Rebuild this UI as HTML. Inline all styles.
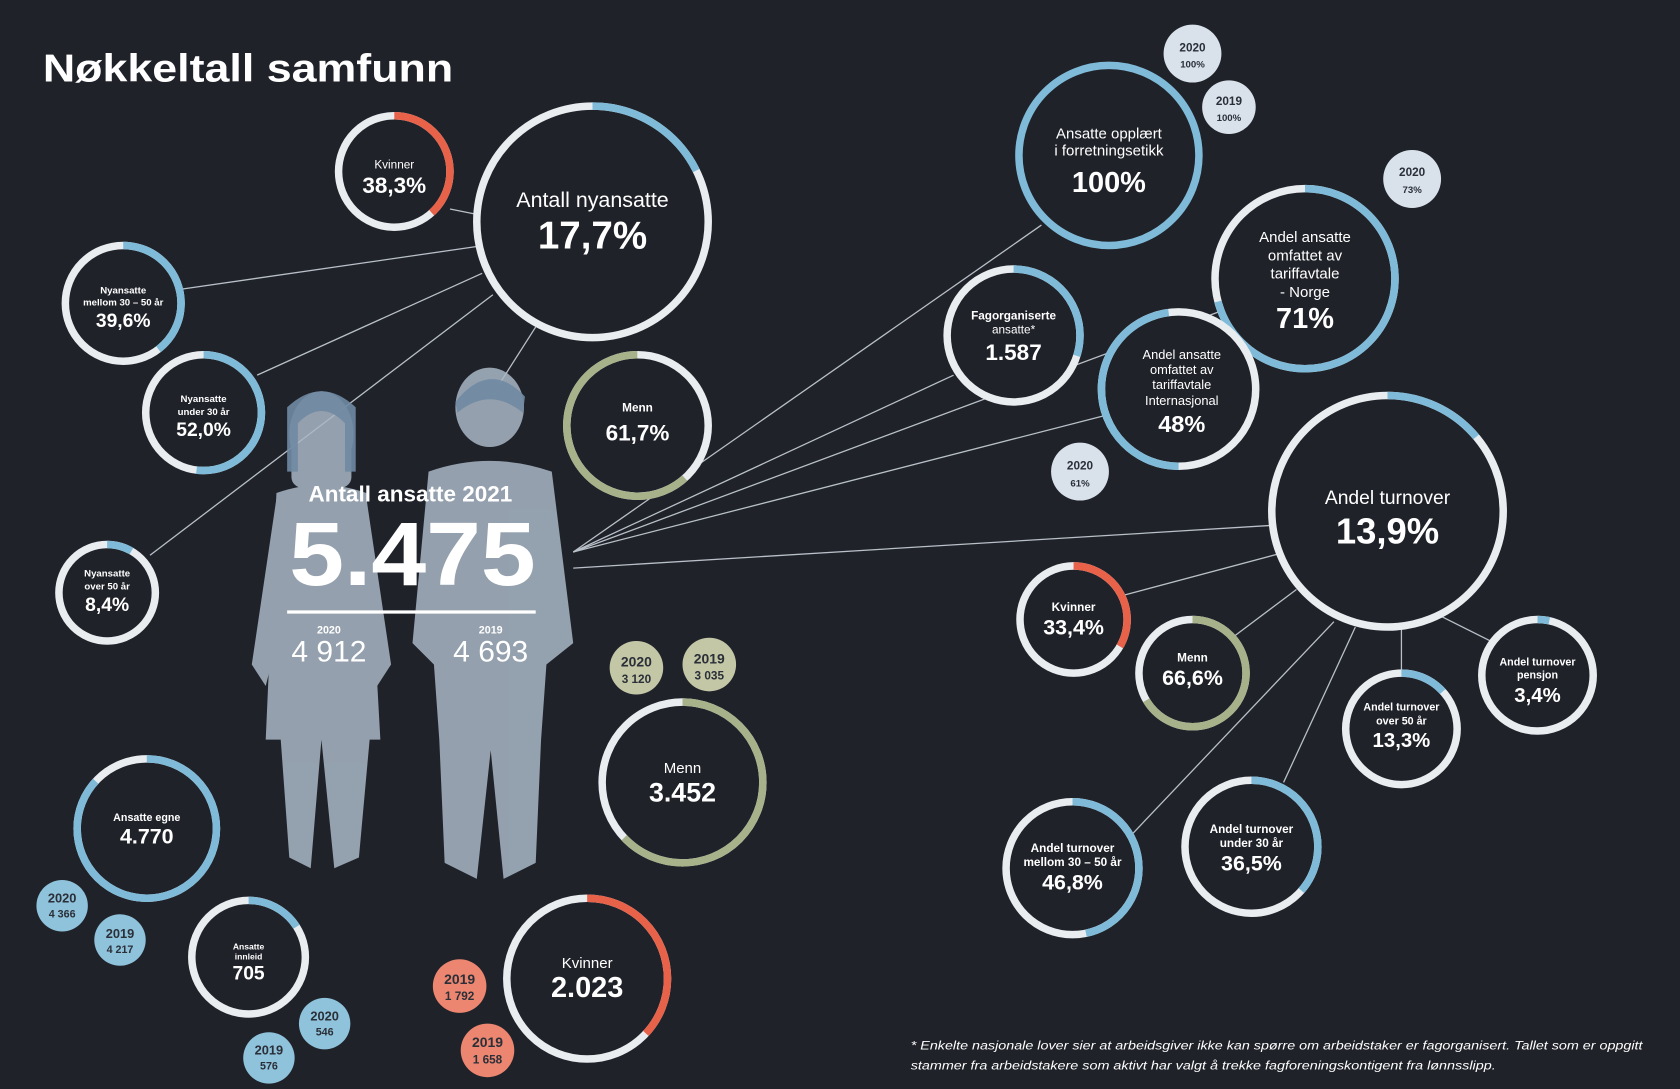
<!DOCTYPE html>
<html><head><meta charset="utf-8"><style>
html,body{margin:0;padding:0;background:#1f2229;}
svg{display:block;font-family:"Liberation Sans",sans-serif;}
.r{fill:#1f2229;stroke:#e9edf0;stroke-width:7}
.a{fill:none;stroke-width:7}
.b{stroke:#7fbbd8}.red{stroke:#e8624a}.g{stroke:#a7b18a}
.t{fill:#fff;text-anchor:middle;font-weight:bold}
.s{text-anchor:middle;fill:#2a2f38;font-weight:bold}
.ln{stroke:#b9c0c8;stroke-width:1.2}
</style></head><body>
<svg width="1680" height="1089" viewBox="0 0 1568 1016" preserveAspectRatio="none">
<rect width="1568" height="1016" fill="#1f2229"/>
<text x="40" y="76" fill="#fff" font-size="36" font-weight="bold" textLength="383" lengthAdjust="spacingAndGlyphs">Nøkkeltall samfunn</text>

<g class="ln">
<line x1="420" y1="195" x2="445" y2="200"/>
<line x1="168" y1="270" x2="445" y2="230"/>
<line x1="240" y1="350" x2="450" y2="255"/>
<line x1="140" y1="518" x2="460" y2="275"/>
<line x1="465" y1="360" x2="500" y2="305"/>
<line x1="535" y1="515" x2="972" y2="210"/>
<line x1="535" y1="515" x2="890" y2="350"/>
<line x1="535" y1="515" x2="1140" y2="290"/>
<line x1="535" y1="515" x2="1030" y2="388"/>
<line x1="535" y1="530" x2="1190" y2="490"/>
<line x1="1050" y1="555" x2="1200" y2="515"/>
<line x1="1150" y1="595" x2="1210" y2="550"/>
<line x1="1335" y1="570" x2="1395" y2="600"/>
<line x1="1308" y1="585" x2="1308" y2="628"/>
<line x1="1198" y1="730" x2="1265" y2="585"/>
<line x1="1055" y1="780" x2="1245" y2="580"/>
</g>

<!-- people -->
<g fill="#a9b7c5" opacity="0.85">
<ellipse cx="300" cy="405" rx="30" ry="40"/>
<rect x="272" y="405" width="56" height="50" rx="10"/>
<path d="M258 460 Q300 445 342 460 L350 600 L355 690 L345 690 L335 800 L312 810 L300 690 L290 810 L270 800 L262 690 L248 690 L252 600 Z"/>
<path d="M258 465 L235 620 L248 640 L268 560 Z"/>
<path d="M342 465 L365 620 L352 640 L332 560 Z"/>
<ellipse cx="457" cy="380" rx="32" ry="37"/>
<path d="M400 440 Q457 420 515 440 L535 600 L510 620 L505 690 L500 805 L470 820 L458 700 L445 820 L415 805 L410 690 L405 620 L385 600 Z"/>
</g>
<g fill="#6f8aa3" opacity="0.9">
<path d="M268 380 Q300 350 332 380 L332 440 L322 440 L322 395 Q300 372 278 395 L278 440 L268 440 Z"/>
<path d="M425 375 Q457 335 490 370 L488 385 Q457 360 427 385 Z"/>
</g>

<g>
<circle class="r" cx="553" cy="207" r="108"/><circle class="a b" cx="553" cy="207" r="108" pathLength="100" stroke-dasharray="17.7 100" transform="rotate(-90 553 207)"/>
<circle class="r" cx="368" cy="160" r="52"/><circle class="a red" cx="368" cy="160" r="52" pathLength="100" stroke-dasharray="38.3 100" transform="rotate(-90 368 160)"/>
<circle class="r" cx="115" cy="283" r="54"/><circle class="a b" cx="115" cy="283" r="54" pathLength="100" stroke-dasharray="39.6 100" transform="rotate(-90 115 283)"/>
<circle class="r" cx="190" cy="385" r="54"/><circle class="a b" cx="190" cy="385" r="54" pathLength="100" stroke-dasharray="52 100" transform="rotate(-90 190 385)"/>
<circle class="r" cx="100" cy="553" r="45"/><circle class="a b" cx="100" cy="553" r="45" pathLength="100" stroke-dasharray="8.4 100" transform="rotate(-90 100 553)"/>
<circle class="r" cx="595" cy="397" r="66"/><circle class="a g" cx="595" cy="397" r="66" pathLength="100" stroke-dasharray="61.7 100" transform="rotate(48 595 397)"/>
<circle class="r b" cx="1035" cy="145" r="84"/>
<circle class="r" cx="1218" cy="260" r="84"/><circle class="a b" cx="1218" cy="260" r="84" pathLength="100" stroke-dasharray="71 100" transform="rotate(-90 1218 260)"/>
<circle class="r" cx="946" cy="313" r="62"/><circle class="a b" cx="946" cy="313" r="62" pathLength="100" stroke-dasharray="30 100" transform="rotate(-90 946 313)"/>
<circle class="r" cx="1100" cy="363" r="72"/><circle class="a b" cx="1100" cy="363" r="72" pathLength="100" stroke-dasharray="48 100" transform="rotate(90 1100 363)"/>
<circle class="r" cx="1295" cy="477" r="108"/><circle class="a b" cx="1295" cy="477" r="108" pathLength="100" stroke-dasharray="13.9 100" transform="rotate(-90 1295 477)"/>
<circle class="r" cx="1002" cy="578" r="50"/><circle class="a red" cx="1002" cy="578" r="50" pathLength="100" stroke-dasharray="33.4 100" transform="rotate(-90 1002 578)"/>
<circle class="r" cx="1113" cy="628" r="50"/><circle class="a g" cx="1113" cy="628" r="50" pathLength="100" stroke-dasharray="66.6 100" transform="rotate(-90 1113 628)"/>
<circle class="r" cx="1435" cy="630" r="52"/><circle class="a b" cx="1435" cy="630" r="52" pathLength="100" stroke-dasharray="3.4 100" transform="rotate(-90 1435 630)"/>
<circle class="r" cx="1308" cy="680" r="52"/><circle class="a b" cx="1308" cy="680" r="52" pathLength="100" stroke-dasharray="13.3 100" transform="rotate(-90 1308 680)"/>
<circle class="r" cx="1168" cy="790" r="62"/><circle class="a b" cx="1168" cy="790" r="62" pathLength="100" stroke-dasharray="36.5 100" transform="rotate(-90 1168 790)"/>
<circle class="r" cx="1001" cy="810" r="62"/><circle class="a b" cx="1001" cy="810" r="62" pathLength="100" stroke-dasharray="46.8 100" transform="rotate(-90 1001 810)"/>
<circle class="r" cx="637" cy="730" r="75"/><circle class="a g" cx="637" cy="730" r="75" pathLength="100" stroke-dasharray="63 100" transform="rotate(-90 637 730)"/>
<circle class="r" cx="548" cy="913" r="75"/><circle class="a red" cx="548" cy="913" r="75" pathLength="100" stroke-dasharray="37 100" transform="rotate(-90 548 913)"/>
<circle class="r" cx="137" cy="773" r="65"/><circle class="a b" cx="137" cy="773" r="65" pathLength="100" stroke-dasharray="87 100" transform="rotate(-90 137 773)"/>
<circle class="r" cx="232" cy="893" r="53"/><circle class="a b" cx="232" cy="893" r="53" pathLength="100" stroke-dasharray="16 100" transform="rotate(-90 232 893)"/>
</g>

<g>
<circle cx="1113" cy="50" r="27" fill="#d9e1ea"/><text class="s" x="1113" y="48" font-size="11" font-weight="normal">2020</text><text class="s" x="1113" y="63" font-size="9">100%</text>
<circle cx="1147" cy="100" r="25" fill="#d9e1ea"/><text class="s" x="1147" y="98" font-size="11" font-weight="normal">2019</text><text class="s" x="1147" y="113" font-size="9">100%</text>
<circle cx="1318" cy="167" r="27" fill="#d9e1ea"/><text class="s" x="1318" y="164" font-size="11" font-weight="normal">2020</text><text class="s" x="1318" y="180" font-size="9">73%</text>
<circle cx="1008" cy="440" r="27" fill="#d9e1ea"/><text class="s" x="1008" y="438" font-size="11" font-weight="normal">2020</text><text class="s" x="1008" y="454" font-size="9">61%</text>
<circle cx="594" cy="623" r="25" fill="#c3c7a6"/><text class="s" x="594" y="622" font-size="13" font-weight="normal">2020</text><text class="s" x="594" y="637" font-size="11">3 120</text>
<circle cx="662" cy="620" r="25" fill="#c3c7a6"/><text class="s" x="662" y="619" font-size="13" font-weight="normal">2019</text><text class="s" x="662" y="634" font-size="11">3 035</text>
<circle cx="429" cy="920" r="25" fill="#ec8670"/><text class="s" x="429" y="918" font-size="13" font-weight="normal">2019</text><text class="s" x="429" y="933" font-size="11">1 792</text>
<circle cx="455" cy="980" r="25" fill="#ec8670"/><text class="s" x="455" y="977" font-size="13" font-weight="normal">2019</text><text class="s" x="455" y="992" font-size="11">1 658</text>
<circle cx="58" cy="845" r="24" fill="#8fc2db"/><text class="s" x="58" y="842" font-size="12" font-weight="normal">2020</text><text class="s" x="58" y="856" font-size="10">4 366</text>
<circle cx="112" cy="877" r="24" fill="#8fc2db"/><text class="s" x="112" y="875" font-size="12" font-weight="normal">2019</text><text class="s" x="112" y="889" font-size="10">4 217</text>
<circle cx="303" cy="955" r="24" fill="#8fc2db"/><text class="s" x="303" y="952" font-size="12" font-weight="normal">2020</text><text class="s" x="303" y="966" font-size="10">546</text>
<circle cx="251" cy="987" r="24" fill="#8fc2db"/><text class="s" x="251" y="984" font-size="12" font-weight="normal">2019</text><text class="s" x="251" y="998" font-size="10">576</text>
</g>

<g class="t">
<text x="553" y="193" font-size="20" font-weight="normal">Antall nyansatte</text><text x="553" y="232" font-size="36">17,7%</text>
<text x="368" y="157" font-size="11" font-weight="normal">Kvinner</text><text x="368" y="180" font-size="21">38,3%</text>
<text x="115" y="274" font-size="9">Nyansatte</text><text x="115" y="285" font-size="9">mellom 30 – 50 år</text><text x="115" y="305" font-size="18">39,6%</text>
<text x="190" y="375" font-size="9">Nyansatte</text><text x="190" y="387" font-size="9">under 30 år</text><text x="190" y="407" font-size="18">52,0%</text>
<text x="100" y="538" font-size="9">Nyansatte</text><text x="100" y="550" font-size="9">over 50 år</text><text x="100" y="570" font-size="18">8,4%</text>
<text x="595" y="384" font-size="11">Menn</text><text x="595" y="411" font-size="21">61,7%</text>
<text x="1035" y="129" font-size="14" font-weight="normal">Ansatte opplært</text><text x="1035" y="145" font-size="14" font-weight="normal">i forretningsetikk</text><text x="1035" y="179" font-size="27">100%</text>
<text x="1218" y="226" font-size="14" font-weight="normal">Andel ansatte</text><text x="1218" y="243" font-size="14" font-weight="normal">omfattet av</text><text x="1218" y="260" font-size="14" font-weight="normal">tariffavtale</text><text x="1218" y="277" font-size="14" font-weight="normal">- Norge</text><text x="1218" y="306" font-size="27">71%</text>
<text x="946" y="298" font-size="11">Fagorganiserte</text><text x="946" y="311" font-size="11" font-weight="normal">ansatte*</text><text x="946" y="336" font-size="21">1.587</text>
<text x="1103" y="335" font-size="12" font-weight="normal">Andel ansatte</text><text x="1103" y="349" font-size="12" font-weight="normal">omfattet av</text><text x="1103" y="363" font-size="12" font-weight="normal">tariffavtale</text><text x="1103" y="378" font-size="12" font-weight="normal">Internasjonal</text><text x="1103" y="403" font-size="22">48%</text>
<text x="1295" y="470" font-size="18" font-weight="normal">Andel turnover</text><text x="1295" y="507" font-size="34">13,9%</text>
<text x="1002" y="570" font-size="11">Kvinner</text><text x="1002" y="592" font-size="20">33,4%</text>
<text x="1113" y="617" font-size="11">Menn</text><text x="1113" y="639" font-size="20">66,6%</text>
<text x="1435" y="621" font-size="10">Andel turnover</text><text x="1435" y="633" font-size="10">pensjon</text><text x="1435" y="655" font-size="19">3,4%</text>
<text x="1308" y="663" font-size="10">Andel turnover</text><text x="1308" y="676" font-size="10">over 50 år</text><text x="1308" y="697" font-size="19">13,3%</text>
<text x="1168" y="777" font-size="11">Andel turnover</text><text x="1168" y="790" font-size="11">under 30 år</text><text x="1168" y="812" font-size="20">36,5%</text>
<text x="1001" y="795" font-size="11">Andel turnover</text><text x="1001" y="808" font-size="11">mellom 30 – 50 år</text><text x="1001" y="830" font-size="20">46,8%</text>
<text x="637" y="721" font-size="14" font-weight="normal">Menn</text><text x="637" y="748" font-size="25">3.452</text>
<text x="548" y="903" font-size="14" font-weight="normal">Kvinner</text><text x="548" y="930" font-size="27">2.023</text>
<text x="137" y="766" font-size="10">Ansatte egne</text><text x="137" y="787" font-size="20">4.770</text>
<text x="232" y="886" font-size="8">Ansatte</text><text x="232" y="895" font-size="8">innleid</text><text x="232" y="914" font-size="18">705</text>
<text x="383" y="468" font-size="21">Antall ansatte 2021</text><text x="385" y="546" font-size="84" textLength="230" lengthAdjust="spacingAndGlyphs">5.475</text>
<text x="307" y="591" font-size="10">2020</text><text x="307" y="617" font-size="28" font-weight="normal">4 912</text>
<text x="458" y="591" font-size="10">2019</text><text x="458" y="617" font-size="28" font-weight="normal">4 693</text>
</g>
<line x1="268" y1="571" x2="500" y2="571" stroke="#fff" stroke-width="3"/>

<text x="850" y="979" fill="#fff" font-size="11" font-style="italic" textLength="683" lengthAdjust="spacingAndGlyphs">* Enkelte nasjonale lover sier at arbeidsgiver ikke kan spørre om arbeidstaker er fagorganisert. Tallet som er oppgitt</text>
<text x="850" y="998" fill="#fff" font-size="11" font-style="italic" textLength="546" lengthAdjust="spacingAndGlyphs">stammer fra arbeidstakere som aktivt har valgt å trekke fagforeningskontigent fra lønnsslipp.</text>
</svg>
</body></html>
